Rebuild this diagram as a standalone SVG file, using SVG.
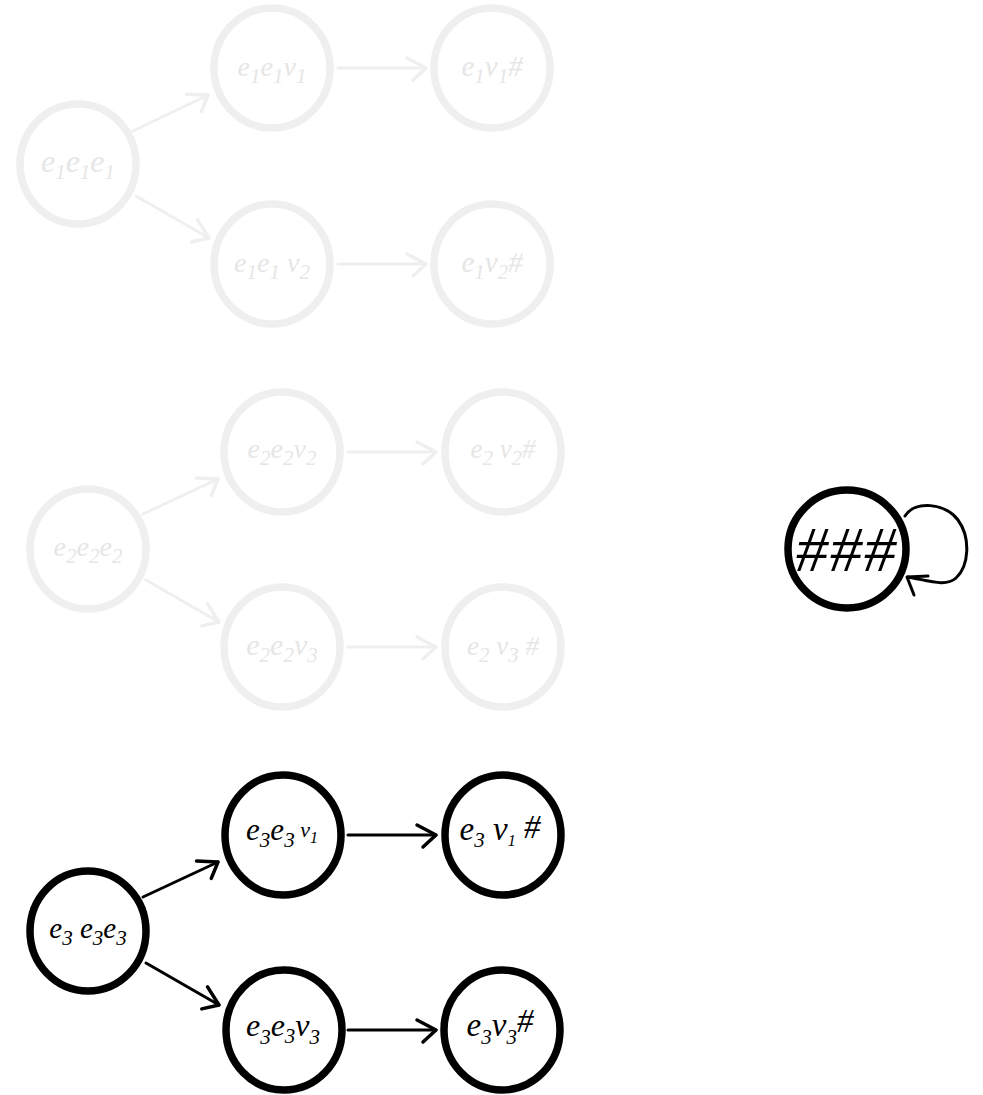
<svg xmlns="http://www.w3.org/2000/svg" width="983" height="1095" viewBox="0 0 983 1095">
  <defs>
    <style>
      .node { fill: #ffffff; stroke-width: 7.5; }
      .dim .node { stroke: #efefef; }
      .dim text { fill: #e6e6e6; }
      .on .node { stroke: #000000; }
      .on text { fill: #000000; }
      text { font-family: "Liberation Serif", "DejaVu Serif", serif; font-style: italic; font-size: 32px; text-anchor: middle; }
      .sub { font-size: 21px; }
      .edge { fill: none; stroke-width: 3; stroke-linecap: round; stroke-linejoin: round; }
      .dim-edge { stroke: #efefef; }
      .on-edge { stroke: #000000; }
    </style>
    <marker id="headDim" markerUnits="userSpaceOnUse" markerWidth="30" markerHeight="30" refX="0" refY="0" viewBox="-22 -15 26 30" orient="auto">
      <path d="M -19,-10 L 0,0 L -13,12" fill="none" stroke="#efefef" stroke-width="3.5" stroke-linecap="round" stroke-linejoin="round"/>
    </marker>
    <marker id="headOn" markerUnits="userSpaceOnUse" markerWidth="30" markerHeight="30" refX="0" refY="0" viewBox="-22 -15 26 30" orient="auto">
      <path d="M -19,-10 L 0,0 L -13,12" fill="none" stroke="#000000" stroke-width="3.5" stroke-linecap="round" stroke-linejoin="round"/>
    </marker>
  </defs>
  <rect width="983" height="1095" fill="#ffffff"/>

  <!-- connectors -->
  <g id="connectors">
    <g class="edge dim-edge">
      <line x1="133" y1="131" x2="208" y2="95" marker-end="url(#headDim)"/>
      <line x1="136" y1="196" x2="209" y2="238" marker-end="url(#headDim)"/>
      <line x1="338" y1="68" x2="426" y2="68" marker-end="url(#headDim)"/>
      <line x1="338" y1="264" x2="426" y2="264" marker-end="url(#headDim)"/>
      <line x1="143" y1="514" x2="218" y2="479" marker-end="url(#headDim)"/>
      <line x1="146" y1="580" x2="219" y2="622" marker-end="url(#headDim)"/>
      <line x1="348" y1="452" x2="436" y2="452" marker-end="url(#headDim)"/>
      <line x1="348" y1="647" x2="436" y2="647" marker-end="url(#headDim)"/>
    </g>
    <g class="edge on-edge">
      <line x1="143" y1="897" x2="218" y2="862" marker-end="url(#headOn)"/>
      <line x1="146" y1="963" x2="219" y2="1005" marker-end="url(#headOn)"/>
      <line x1="348" y1="835" x2="436" y2="835" marker-end="url(#headOn)"/>
      <line x1="348" y1="1030" x2="436" y2="1030" marker-end="url(#headOn)"/>
      <!-- self loop on ### -->
      <path d="M 905,516 C 915,500 945,503 958,520 C 971,538 969,566 956,578 C 946,587 930,581 908,577"/>
      <path d="M 928,576 L 907,577 L 914,595"/>
    </g>
  </g>

  <!-- first chain (faded) -->
  <g class="dim">
    <g id="n_e1e1e1">
      <ellipse class="node" cx="78" cy="164" rx="58" ry="60"/>
      <text x="78" y="172">e<tspan class="sub" dy="7">1</tspan><tspan dy="-7">e</tspan><tspan class="sub" dy="7">1</tspan><tspan dy="-7">e</tspan><tspan class="sub" dy="7">1</tspan></text>
    </g>
    <g id="n_e1e1v1">
      <ellipse class="node" cx="272" cy="68" rx="58" ry="60"/>
      <text x="272" y="76" style="font-size:28px">e<tspan class="sub" dy="7">1</tspan><tspan dy="-7">e</tspan><tspan class="sub" dy="7">1</tspan><tspan dy="-7">v</tspan><tspan class="sub" dy="7">1</tspan></text>
    </g>
    <g id="n_e1v1h">
      <ellipse class="node" cx="492" cy="68" rx="58" ry="60"/>
      <text x="492" y="76" style="font-size:29px">e<tspan class="sub" dy="7">1</tspan><tspan dy="-7">v</tspan><tspan class="sub" dy="7">1</tspan><tspan dy="-7">#</tspan></text>
    </g>
    <g id="n_e1e1v2">
      <ellipse class="node" cx="272" cy="264" rx="58" ry="60"/>
      <text x="272" y="272" style="font-size:28px">e<tspan class="sub" dy="7">1</tspan><tspan dy="-7">e</tspan><tspan class="sub" dy="7">1</tspan><tspan dy="-7"> v</tspan><tspan class="sub" dy="7">2</tspan></text>
    </g>
    <g id="n_e1v2h">
      <ellipse class="node" cx="492" cy="264" rx="58" ry="60"/>
      <text x="492" y="272" style="font-size:29px">e<tspan class="sub" dy="7">1</tspan><tspan dy="-7">v</tspan><tspan class="sub" dy="7">2</tspan><tspan dy="-7">#</tspan></text>
    </g>
  </g>

  <!-- second chain (faded) -->
  <g class="dim">
    <g id="n_e2e2e2">
      <ellipse class="node" cx="88" cy="549" rx="58" ry="60"/>
      <text x="88" y="556" style="font-size:28px">e<tspan class="sub" dy="7">2</tspan><tspan dy="-7">e</tspan><tspan class="sub" dy="7">2</tspan><tspan dy="-7">e</tspan><tspan class="sub" dy="7">2</tspan></text>
    </g>
    <g id="n_e2e2v2">
      <ellipse class="node" cx="282" cy="452" rx="58" ry="60"/>
      <text x="282" y="458" style="font-size:28px">e<tspan class="sub" dy="7">2</tspan><tspan dy="-7">e</tspan><tspan class="sub" dy="7">2</tspan><tspan dy="-7">v</tspan><tspan class="sub" dy="7">2</tspan></text>
    </g>
    <g id="n_e2v2h">
      <ellipse class="node" cx="503" cy="452" rx="58" ry="60"/>
      <text x="503" y="458" style="font-size:27px">e<tspan class="sub" dy="7">2</tspan><tspan dy="-7"> v</tspan><tspan class="sub" dy="7">2</tspan><tspan dy="-7">#</tspan></text>
    </g>
    <g id="n_e2e2v3">
      <ellipse class="node" cx="282" cy="647" rx="58" ry="60"/>
      <text x="282" y="655" style="font-size:30px">e<tspan class="sub" dy="7">2</tspan><tspan dy="-7">e</tspan><tspan class="sub" dy="7">2</tspan><tspan dy="-7">v</tspan><tspan class="sub" dy="7">3</tspan></text>
    </g>
    <g id="n_e2v3h">
      <ellipse class="node" cx="503" cy="647" rx="58" ry="60"/>
      <text x="503" y="655" style="font-size:27px">e<tspan class="sub" dy="7">2</tspan><tspan dy="-7"> v</tspan><tspan class="sub" dy="7">3</tspan><tspan dy="-7"> #</tspan></text>
    </g>
  </g>

  <!-- third chain -->
  <g class="on">
    <g id="n_e3e3e3">
      <ellipse class="node" cx="88" cy="931" rx="58" ry="60"/>
      <text x="88" y="938" style="font-size:29px">e<tspan class="sub" dy="7">3</tspan><tspan dy="-7"> e</tspan><tspan class="sub" dy="7">3</tspan><tspan dy="-7">e</tspan><tspan class="sub" dy="7">3</tspan></text>
    </g>
    <g id="n_e3e3v1">
      <ellipse class="node" cx="283" cy="835" rx="58" ry="60"/>
      <text x="282" y="840" style="font-size:31px">e<tspan class="sub" dy="7">3</tspan><tspan dy="-7">e</tspan><tspan class="sub" dy="7">3</tspan><tspan dy="-10" style="font-size:22px"> v</tspan><tspan class="sub" dy="6" style="font-size:16px">1</tspan></text>
    </g>
    <g id="n_e3v1h">
      <ellipse class="node" cx="503" cy="835" rx="58" ry="60"/>
      <text x="500" y="840" style="font-size:33px">e<tspan class="sub" dy="7">3</tspan><tspan dy="-7"> v</tspan><tspan class="sub" dy="6" style="font-size:16px">1</tspan><tspan dy="-8"> #</tspan></text>
    </g>
    <g id="n_e3e3v3">
      <ellipse class="node" cx="284" cy="1030" rx="58" ry="60"/>
      <text x="283" y="1036" style="font-size:32px">e<tspan class="sub" dy="8">3</tspan><tspan dy="-8">e</tspan><tspan class="sub" dy="7">3</tspan><tspan dy="-7">v</tspan><tspan class="sub" dy="8">3</tspan></text>
    </g>
    <g id="n_e3v3h">
      <ellipse class="node" cx="502" cy="1030" rx="58" ry="60"/>
      <text x="500" y="1036" style="font-size:33px">e<tspan class="sub" dy="8">3</tspan><tspan dy="-8">v</tspan><tspan class="sub" dy="8">3</tspan><tspan dy="-12">#</tspan></text>
    </g>
    <g id="n_hhh">
      <ellipse class="node" cx="847" cy="549" rx="59" ry="59"/>
      <text x="847" y="571" style="font-size:64px; letter-spacing:2px">###</text>
    </g>
  </g>
</svg>
